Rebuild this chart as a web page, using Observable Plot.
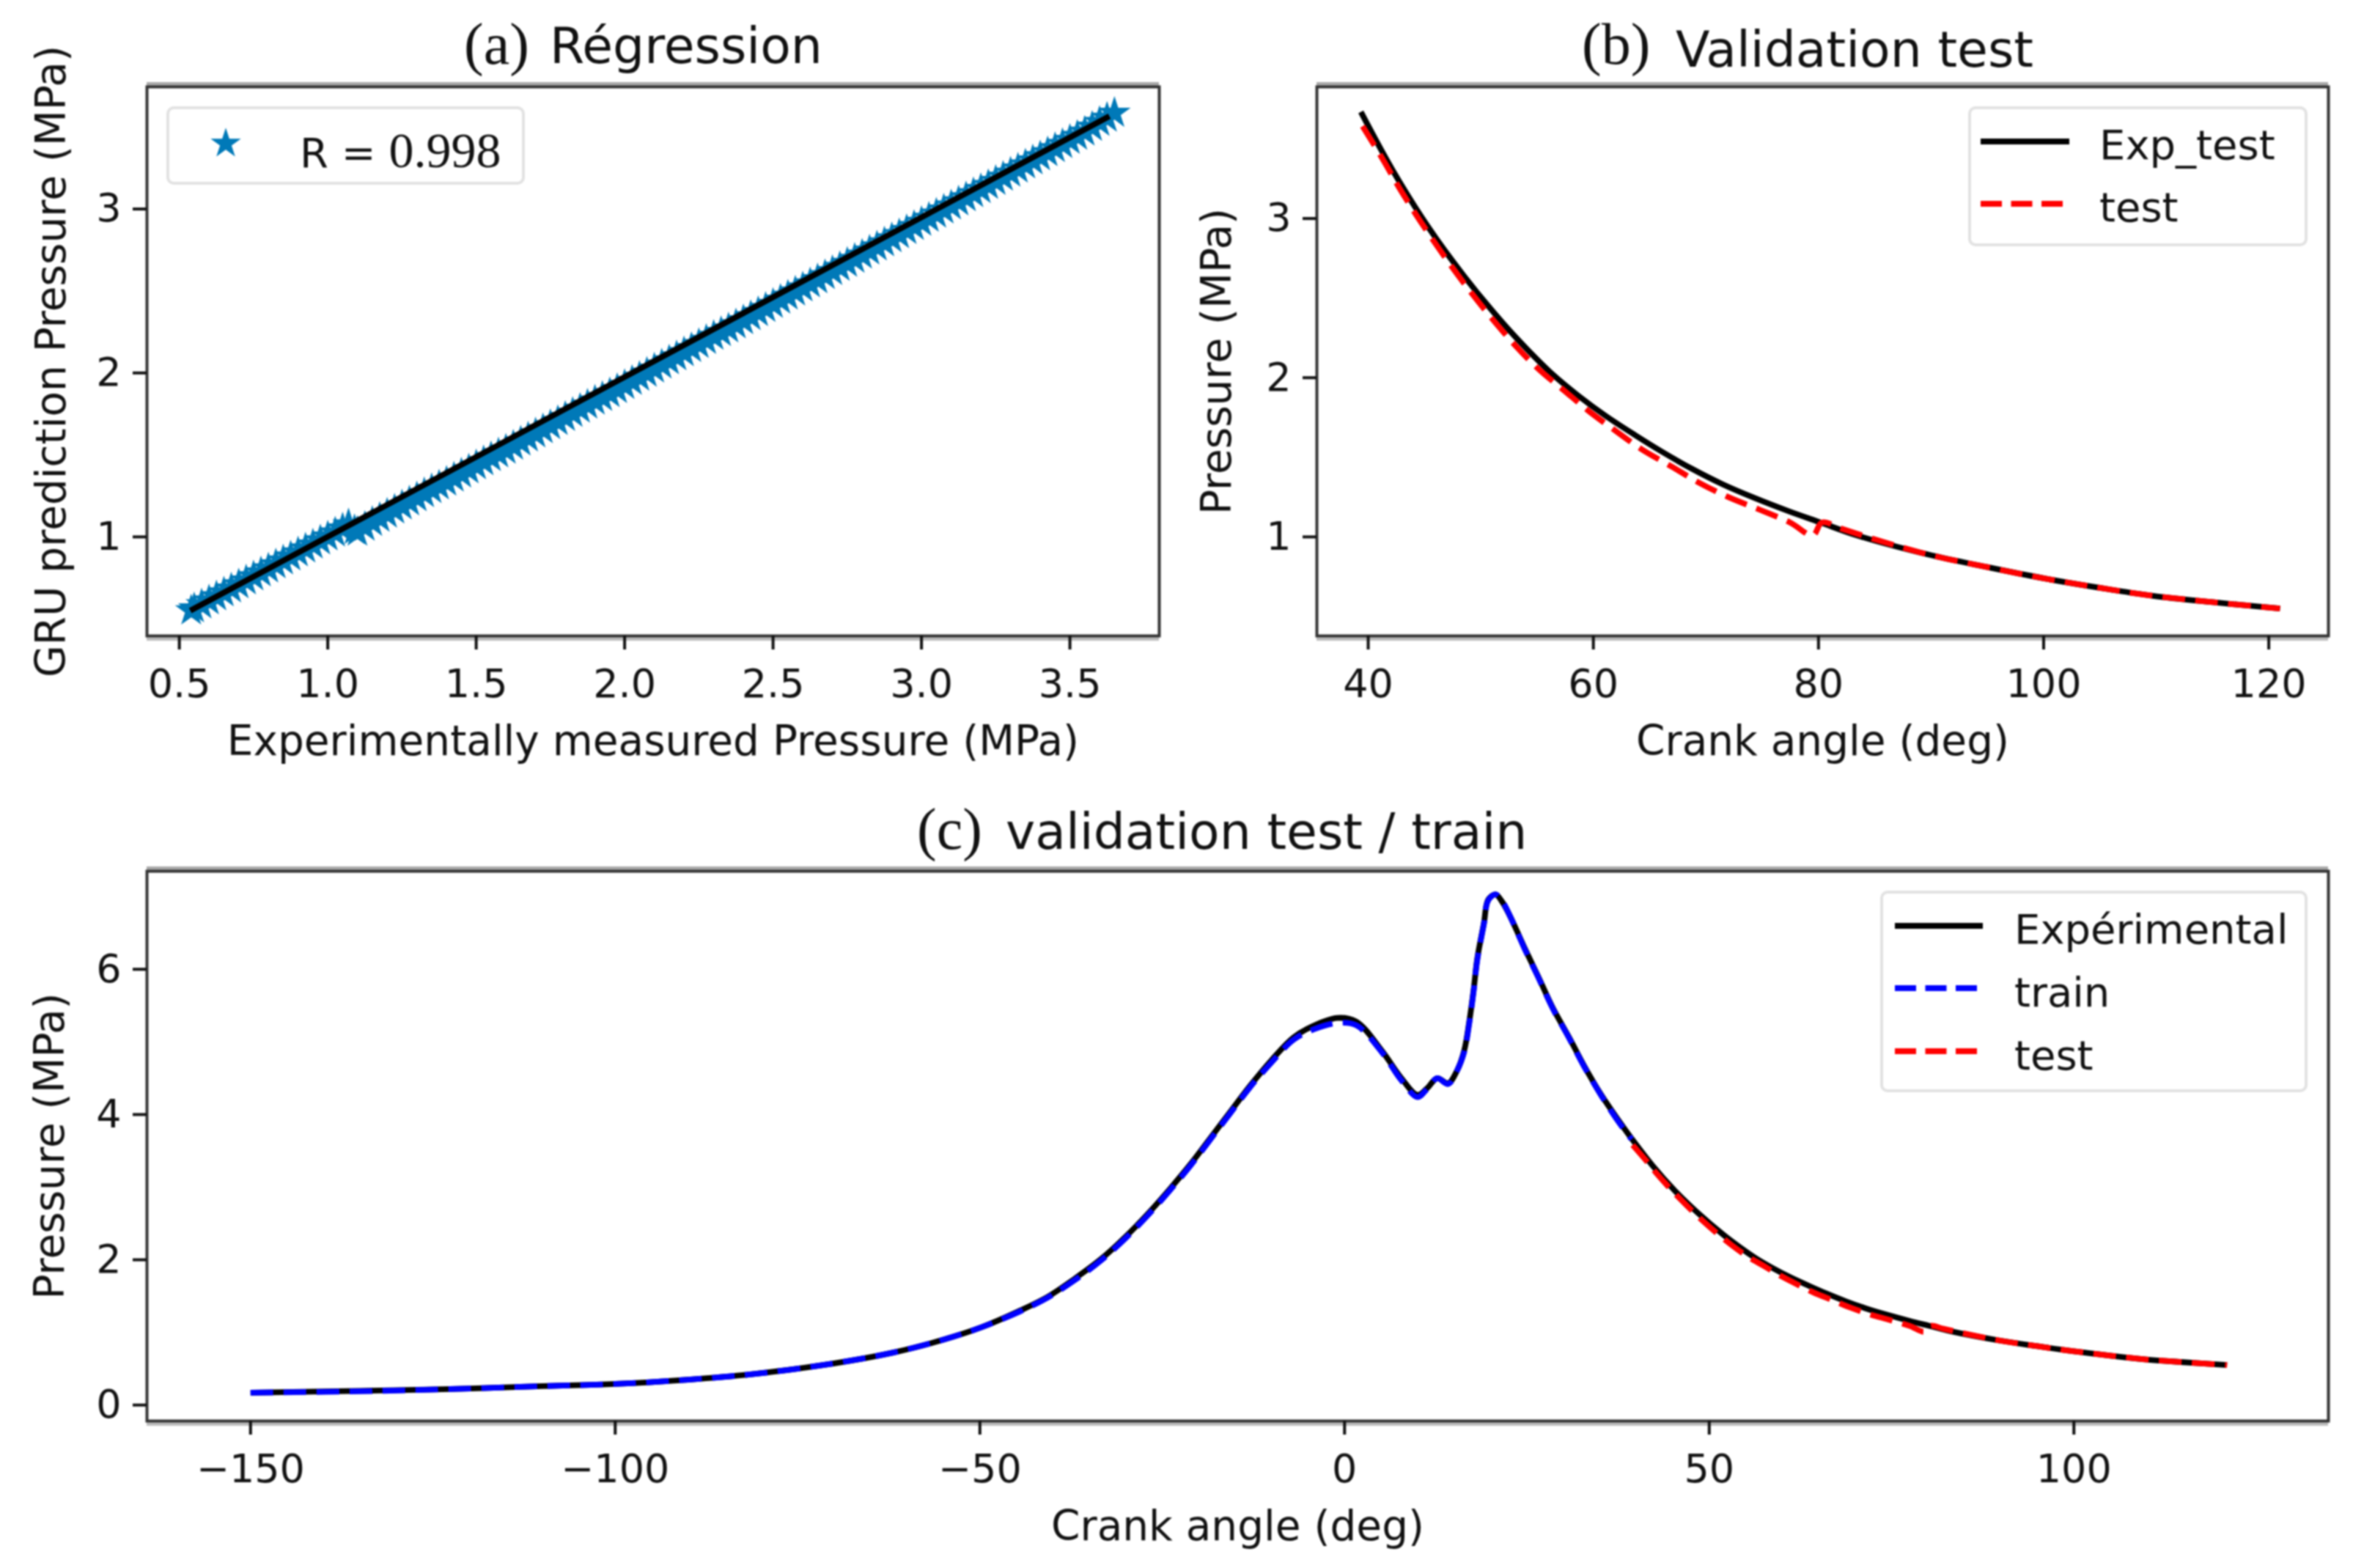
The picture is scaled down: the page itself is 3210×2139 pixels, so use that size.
<!DOCTYPE html>
<html>
<head>
<meta charset="utf-8">
<script src="https://cdn.jsdelivr.net/npm/d3@7"></script>
<script src="https://cdn.jsdelivr.net/npm/@observablehq/plot@0.6"></script>
<style>
html,body{margin:0;padding:0;background:#fff;}
#fig{position:relative;width:3210px;height:2139px;overflow:hidden;background:#fff;filter:blur(0.9px);font-family:"DejaVu Sans";color:#111;}
#fig svg{position:absolute;overflow:visible;max-width:none;}
.t{position:absolute;white-space:nowrap;line-height:1;}
.box{position:absolute;box-sizing:border-box;border:4px solid #e2e2e2;border-radius:10px;background:rgba(255,255,255,.85);}
</style>
</head>
<body>
<div id="fig"></div>
<script>
// Panel (a): regression scatter, experimental pressure vs predicted pressure
const regExp = [0.54,0.55,0.575,0.6,0.625,0.65,0.675,0.7,0.725,0.75,0.775,0.8,0.825,0.85,0.875,0.9,0.925,0.95,0.975,1.0,1.025,1.05,1.07,1.09,1.1,1.125,1.15,1.175,1.2,1.225,1.25,1.275,1.3,1.325,1.35,1.375,1.4,1.425,1.45,1.475,1.5,1.525,1.55,1.575,1.6,1.625,1.65,1.675,1.7,1.725,1.75,1.775,1.8,1.825,1.85,1.875,1.9,1.925,1.95,1.975,2.0,2.025,2.05,2.075,2.1,2.125,2.15,2.175,2.2,2.225,2.25,2.275,2.3,2.325,2.35,2.375,2.4,2.425,2.45,2.475,2.5,2.525,2.55,2.575,2.6,2.625,2.65,2.675,2.7,2.725,2.75,2.775,2.8,2.825,2.85,2.875,2.9,2.925,2.95,2.975,3.0,3.025,3.05,3.075,3.1,3.125,3.15,3.175,3.2,3.225,3.25,3.275,3.3,3.325,3.35,3.375,3.4,3.425,3.45,3.475,3.5,3.525,3.55,3.575,3.6,3.625,3.65];
const regPred = [0.55,0.563,0.587,0.611,0.636,0.66,0.684,0.709,0.733,0.758,0.782,0.806,0.831,0.855,0.879,0.904,0.928,0.952,0.977,1.001,1.025,1.05,1.075,1.04,1.03,1.06,1.09,1.115,1.14,1.165,1.19,1.215,1.24,1.265,1.29,1.312,1.335,1.36,1.385,1.41,1.435,1.46,1.485,1.508,1.53,1.555,1.58,1.605,1.63,1.655,1.68,1.705,1.73,1.755,1.78,1.805,1.83,1.852,1.875,1.9,1.925,1.95,1.975,2.0,2.025,2.05,2.075,2.1,2.125,2.15,2.175,2.2,2.225,2.248,2.27,2.295,2.32,2.345,2.37,2.395,2.42,2.445,2.47,2.495,2.52,2.545,2.57,2.595,2.62,2.645,2.67,2.695,2.72,2.745,2.77,2.795,2.82,2.845,2.87,2.895,2.92,2.945,2.97,2.995,3.02,3.045,3.07,3.095,3.12,3.145,3.17,3.195,3.22,3.245,3.27,3.295,3.32,3.345,3.37,3.395,3.42,3.445,3.47,3.5,3.53,3.555,3.585];
const fitX = [0.537,3.633];
const fitY = [0.55,3.566];

// Crank angle (deg) and experimental pressure (MPa)
const expAngle = [-150,-135,-122.6,-110,-100,-90,-81.7,-71.5,-62,-55,-49.8,-44.7,-40.7,-37,-33.4,-30,-27,-24,-21.1,-18.6,-15.8,-13,-10,-7,-4.3,-1,1.6,5.1,7.8,10,11.3,12.7,14.2,15.4,16.4,17.1,17.7,18.2,19.1,19.7,20.7,21.6,22.7,24.7,26.6,28.6,30.8,32.8,35.2,37.7,39.35,42.2,45.3,48.5,52,54.1,56.4,58.7,61.1,63.7,66.1,68.7,71.5,74.3,77.4,80.2,83.4,89.7,95,100,105,109.7,115,121];
const expP = [0.17,0.195,0.22,0.26,0.29,0.35,0.42,0.55,0.72,0.9,1.07,1.29,1.49,1.74,2.01,2.32,2.63,2.97,3.32,3.65,4.02,4.39,4.75,5.06,5.22,5.33,5.28,4.88,4.5,4.27,4.36,4.5,4.43,4.6,4.88,5.28,5.72,6.15,6.63,6.96,7.03,6.93,6.73,6.29,5.89,5.46,5.06,4.68,4.27,3.9,3.67,3.3,2.95,2.64,2.34,2.18,2.02,1.885,1.76,1.64,1.535,1.43,1.33,1.245,1.16,1.09,1.01,0.89,0.81,0.74,0.68,0.63,0.59,0.55];

// Training prediction
const trainAngle = [-150,-135,-122.6,-110,-100,-90,-81.7,-71.5,-62,-55,-49.8,-44.7,-40.7,-37,-33.4,-30,-27,-24,-21.1,-18.6,-15.8,-13,-10,-7,-4.3,-1,1.6,5.1,7.8,10,11.3,12.7,14.2,15.4,16.4,17.1,17.7,18.2,19.1,19.7,20.7,21.6,22.7,24.7,26.6,28.6,30.8,32.8,35.2,37.7,39.35];
const trainP = [0.17,0.19,0.22,0.26,0.29,0.35,0.42,0.55,0.72,0.9,1.07,1.28,1.48,1.72,1.99,2.3,2.61,2.95,3.3,3.63,4.0,4.37,4.72,5.03,5.17,5.26,5.23,4.86,4.47,4.24,4.35,4.5,4.42,4.6,4.86,5.26,5.7,6.13,6.62,6.95,7.03,6.94,6.73,6.28,5.88,5.45,5.05,4.67,4.26,3.88,3.66];

// Test prediction
const testAngle = [39.5,41.4,42.7,44.2,45.9,47.5,49.2,50.9,53.1,55.2,57.4,59.6,61.9,64.3,67,69.4,72,74.8,77.5,79.5,80.3,82.1,85,89.7,95,100,105,109.7,115,121];
const testP = [3.58,3.36,3.2,3.03,2.85,2.69,2.53,2.38,2.2,2.05,1.92,1.79,1.67,1.55,1.44,1.34,1.25,1.17,1.09,1.01,1.09,1.05,0.985,0.89,0.81,0.74,0.68,0.63,0.59,0.55];

// Ticks
const aXTicks = [0.5,1,1.5,2,2.5,3,3.5];
const aYTicks = [1,2,3];
const bXTicks = [40,60,80,100,120];
const bYTicks = [1,2,3];
const cXTicks = [-150,-100,-50,0,50,100];
const cYTicks = [0,2,4,6];

const rows = (xs, ys) => xs.map((x, i) => ({x, y: ys[i]}));
const fig = document.getElementById("fig");
const lw = 7.8, dash = "31,14";
const bLine = (xs, ys, stroke, dashed) => Plot.line(rows(xs, ys), {
  x: "x", y: "y", stroke, strokeWidth: lw, curve: "catmull-rom",
  strokeLinecap: "butt", strokeLinejoin: "round",
  strokeDasharray: dashed ? dash : null
});

function panel({left, top, width, height, mL, mR, mT, mB, xDom, yDom, xTicks, yTicks, xFmt, xLabel, yLabel, xOff, yOff, xPad, marks}) {
  const p = Plot.plot({
    width, height,
    marginLeft: mL, marginRight: mR, marginTop: mT, marginBottom: mB,
    style: {fontFamily: "DejaVu Sans", fontSize: "54px", color: "#111", background: "transparent"},
    x: {domain: xDom},
    y: {domain: yDom},
    marks: [
      ...marks,
      Plot.ruleY([yDom[1]], {stroke: "#a8a8a8", strokeWidth: 5, dy: -4}),
      Plot.ruleY([yDom[0]], {stroke: "#bdbdbd", strokeWidth: 5, dy: 4}),
      Plot.frame({stroke: "#333", strokeWidth: 4}),
      Plot.axisX({ticks: xTicks, tickSize: 19, tickPadding: xPad, strokeWidth: 4, fontSize: 54, tickFormat: xFmt, label: null}),
      Plot.axisY({ticks: yTicks, tickSize: 19, tickPadding: 16, strokeWidth: 4, fontSize: 54, tickFormat: d => String(d), label: null}),
      Plot.axisX({ticks: [], tickSize: 0, fontSize: 56.5, label: xLabel, labelAnchor: "center", labelArrow: "none", labelOffset: xOff}),
      Plot.axisY({ticks: [], tickSize: 0, fontSize: 56.5, label: yLabel, labelAnchor: "center", labelArrow: "none", labelOffset: yOff})
    ]
  });
  p.style.left = left + "px";
  p.style.top = top + "px";
  fig.appendChild(p);
}

function addText(html, x, yc, size, family, bg) {
  const d = document.createElement("div");
  d.className = "t";
  d.innerHTML = html;
  d.style.left = x + "px";
  d.style.top = (yc - size / 2) + "px";
  d.style.fontSize = size + "px";
  if (family) d.style.fontFamily = family;
  if (bg) d.style.background = bg;
  fig.appendChild(d);
}
function addBox(x0, y0, x1, y1) {
  const d = document.createElement("div");
  d.className = "box";
  Object.assign(d.style, {left: x0 + "px", top: y0 + "px", width: (x1 - x0) + "px", height: (y1 - y0) + "px"});
  fig.appendChild(d);
}
function addKey(x0, x1, y, stroke, dashed) {
  const ns = "http://www.w3.org/2000/svg";
  const s = document.createElementNS(ns, "svg");
  s.setAttribute("width", x1 - x0); s.setAttribute("height", 20);
  s.style.left = x0 + "px"; s.style.top = (y - 10) + "px";
  const l = document.createElementNS(ns, "line");
  l.setAttribute("x1", 0); l.setAttribute("x2", x1 - x0); l.setAttribute("y1", 10); l.setAttribute("y2", 10);
  l.setAttribute("stroke", stroke); l.setAttribute("stroke-width", lw);
  if (dashed) l.setAttribute("stroke-dasharray", "29,12.5");
  s.appendChild(l);
  fig.appendChild(s);
}
function addStar(cx, cy, r, fill) {
  const ns = "http://www.w3.org/2000/svg";
  const s = document.createElementNS(ns, "svg");
  s.setAttribute("width", 60); s.setAttribute("height", 60);
  s.style.left = (cx - 30) + "px"; s.style.top = (cy - 30) + "px";
  const pa = document.createElementNS(ns, "path");
  pa.setAttribute("d", d3.symbol(d3.symbolStar, Math.PI * r * r)());
  pa.setAttribute("transform", "translate(30,30)");
  pa.setAttribute("fill", fill);
  s.appendChild(pa);
  fig.appendChild(s);
}

const starBlue = "#0079b8";

panel({
  left: 0, top: 0, width: 1605, height: 1069, mL: 200, mR: 24, mT: 118, mB: 202,
  xDom: [0.391, 3.801], yDom: [0.396, 3.745],
  xTicks: aXTicks, yTicks: aYTicks, xFmt: d => d.toFixed(1),
  xLabel: "Experimentally measured Pressure (MPa)", yLabel: "GRU prediction Pressure (MPa)",
  xOff: 162, yOff: 152, xPad: 26,
  marks: [
    Plot.dot(rows(regExp, regPred), {x: "x", y: "y", symbol: "star", r: 12, fill: starBlue, stroke: starBlue, strokeWidth: 2}),
    Plot.line(rows(fitX, fitY), {x: "x", y: "y", stroke: "#000", strokeWidth: lw, strokeLinecap: "butt"})
  ]
});

panel({
  left: 1605, top: 0, width: 1605, height: 1069, mL: 191, mR: 34, mT: 118, mB: 202,
  xDom: [35.44, 125.3], yDom: [0.378, 3.827],
  xTicks: bXTicks, yTicks: bYTicks, xFmt: d => String(d),
  xLabel: "Crank angle (deg)", yLabel: "Pressure (MPa)",
  xOff: 162, yOff: 158, xPad: 26,
  marks: [
    bLine(expAngle.filter(a => a >= 39), expP.filter((_, i) => expAngle[i] >= 39), "#000", false),
    bLine(testAngle, testP, "#f00", true)
  ]
});

panel({
  left: 0, top: 1070, width: 3210, height: 1069, mL: 200, mR: 34, mT: 118, mB: 201,
  xDom: [-164.2, 134.9], yDom: [-0.22, 7.35],
  xTicks: cXTicks, yTicks: cYTicks, xFmt: d => String(d).replace("-", "\u2212"),
  xLabel: "Crank angle (deg)", yLabel: "Pressure (MPa)",
  xOff: 162, yOff: 154, xPad: 26,
  marks: [
    bLine(expAngle, expP, "#000", false),
    bLine(trainAngle, trainP, "#00f", true),
    bLine(testAngle, testP, "#f00", true)
  ]
});

// Titles
addText("(a)", 633, 60, 80, "'Liberation Serif'");
addText("Régression", 750, 63, 68);
addText("(b)", 2158, 60, 80, "'Liberation Serif'");
addText("Validation test", 2286, 68, 68);
addText("(c)", 1251, 1131, 80, "'Liberation Serif'", "#fff");
addText("validation test / train", 1372, 1135, 68);

// Legends
addBox(227, 145, 716, 252);
addStar(308, 196, 13, starBlue);
addText("R = <span style=\"font-family:'Liberation Serif';font-size:68px\">0.998</span>", 409, 199, 56);

addBox(2685, 145, 3148, 336);
addKey(2702, 2823, 193, "#000", false);
addText("Exp_test", 2864, 198, 56);
addKey(2702, 2823, 278, "#f00", true);
addText("test", 2864, 283, 56);

addBox(2565, 1215, 3148, 1490);
addKey(2585, 2705, 1263, "#000", false);
addText("Expérimental", 2748, 1268, 56);
addKey(2585, 2705, 1348, "#00f", true);
addText("train", 2748, 1354, 56);
addKey(2585, 2705, 1434, "#f00", true);
addText("test", 2748, 1440, 56);
</script>
</body>
</html>
